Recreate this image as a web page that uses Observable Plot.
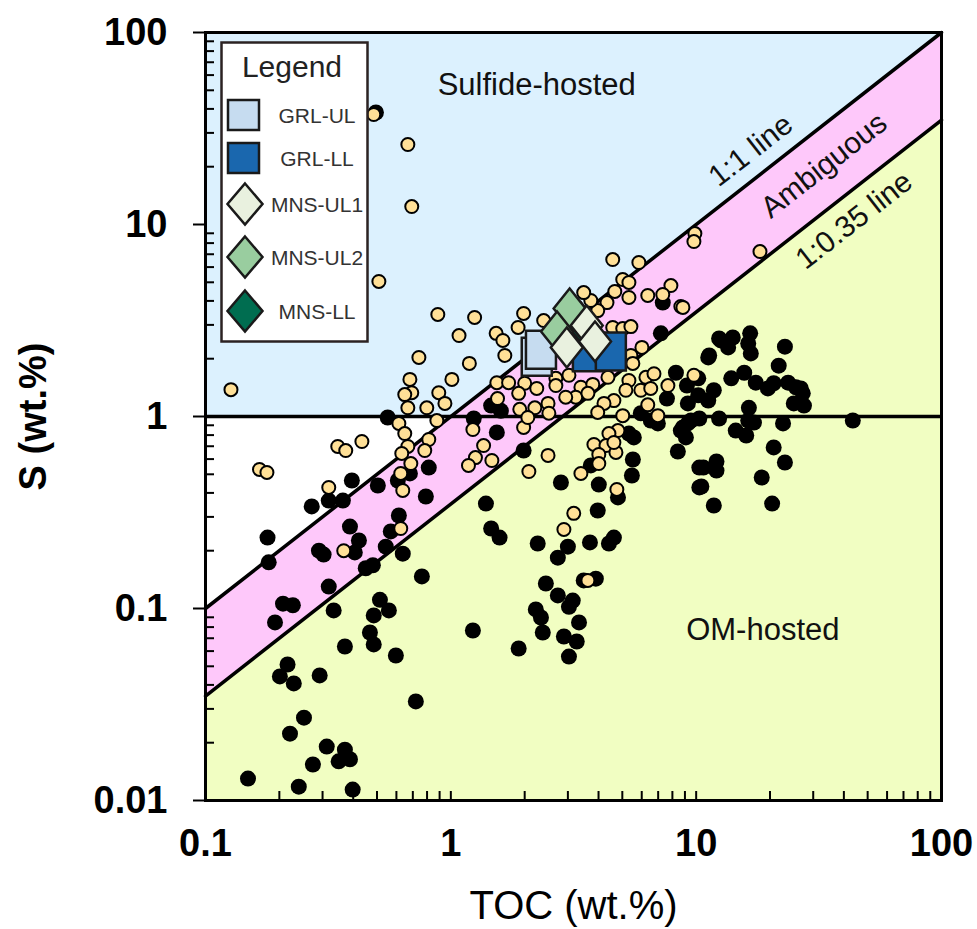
<!DOCTYPE html>
<html><head><meta charset="utf-8">
<script src="https://cdn.jsdelivr.net/npm/d3@7"></script>
<script src="https://cdn.jsdelivr.net/npm/@observablehq/plot@0.6"></script>
<style>
body{margin:0;background:#fff;font-family:Arial,"Liberation Sans",sans-serif;}
#wrap{position:relative;width:977px;height:929px;}
#legend{position:absolute;left:220px;top:41px;}
</style></head><body><div id="wrap"></div>
<script>
// ---- axis ticks ----
const xTicks = [0.1, 1, 10, 100];
const yTicks = [0.01, 0.1, 1, 10, 100];
const minorMultipliers = [2, 3, 4, 5, 6, 7, 8, 9];
const xDecades = [0.1, 1, 10];
const yDecades = [0.01, 0.1, 1, 10];

// ---- reference lines ----
const ratioOneToOne = 1;      // 1:1 line
const ratioAmbiguous = 0.35;  // 1:0.35 line
const sThreshold = 1;         // horizontal S = 1 wt.% line

// ---- data: black circles ----
const blackTOC = [0.495,0.553,0.395,0.504,0.271,0.318,0.363,0.179,0.791,0.614,0.569,0.388,0.422,0.290,0.303,0.543,0.637,0.681,0.813,0.608,0.406,0.181,0.481,0.450,0.318,0.762,0.207,0.227,0.192,0.333,0.514,0.559,0.485,0.468,0.485,0.597,0.370,0.216,0.201,0.229,0.292,0.720,0.252,0.221,0.312,0.370,0.349,0.388,0.274,0.149,0.240,0.398,
1.46,1.60,1.24,1.54,1.98,2.81,4.01,5.52,5.47,4.80,3.97,1.39,1.46,1.58,2.26,2.73,3.00,3.69,4.41,4.62,2.44,2.73,3.48,3.90,8.42,9.08,9.25,10.3,10.3,10.3,6.98,5.95,5.32,3.72,3.14,3.03,2.22,2.33,2.37,3.33,2.89,3.26,3.03,1.23,1.89,7.31,7.18,8.27,9.17,10.2,10.2,11.8,7.60,9.25,11.2,11.2,12.4,6.53,8.66,5.57,
12.6,14.1,16.6,16.7,23.0,21.7,13.9,15.7,17.5,19.6,20.7,23.7,26.7,27.5,25.0,13.5,16.3,16.4,16.3,12.4,9.52,8.83,17.2,22.6,43.5,14.5,16.0,20.7,23.0,18.5,10.5,11.8,20.4,10.7,12.1,12.1,27.2,25.5,11.3];
const blackS = [38.3,0.988,0.464,0.437,0.340,0.365,0.365,0.234,0.383,0.305,0.252,0.267,0.226,0.200,0.191,0.210,0.193,0.505,0.542,0.464,0.196,0.174,0.168,0.162,0.130,0.147,0.106,0.104,0.0846,0.0977,0.111,0.0977,0.092,0.075,0.065,0.0569,0.0634,0.0511,0.0443,0.0407,0.0448,0.0328,0.0270,0.0223,0.0191,0.0184,0.0160,0.0164,0.0154,0.0130,0.0118,0.0114,
1.14,1.07,0.976,0.826,0.665,0.453,0.442,0.597,0.493,0.379,0.324,0.352,0.261,0.234,0.218,0.184,0.210,0.221,0.218,0.234,0.135,0.117,0.140,0.143,0.657,0.778,0.920,0.976,0.542,0.427,0.920,1.04,0.815,0.556,0.110,0.102,0.0989,0.0898,0.075,0.0846,0.0715,0.0673,0.0562,0.0768,0.0619,3.92,2.71,1.69,1.45,1.58,1.29,1.37,1.24,1.17,1.21,2.03,2.55,0.953,0.845,0.778,
2.49,2.58,2.71,2.13,2.31,1.84,1.58,1.69,1.50,1.40,1.49,1.50,1.40,1.14,1.17,2.29,2.40,1.11,0.953,0.976,0.953,0.877,0.930,0.920,0.953,0.845,0.796,0.690,0.576,0.481,0.432,0.344,0.352,0.542,0.583,0.523,1.32,1.42,2.08];

// ---- data: tan circles ----
const tanTOC = [0.127,0.485,0.668,0.693,0.509,0.885,0.741,0.681,0.693,0.649,0.668,0.798,0.893,0.946,1.01,1.08,1.19,1.25,1.53,1.63,1.66,1.88,1.98,2.39,
0.614,0.649,0.668,0.631,0.813,0.783,0.687,0.625,0.637,0.625,0.366,0.346,0.373,0.434,0.166,0.178,0.318,0.877,1.23,1.36,1.26,1.18,1.47,2.49,2.08,
1.54,1.72,2.00,2.24,1.89,1.55,1.91,2.20,2.49,1.98,2.06,2.51,2.68,3.03,2.68,3.39,3.79,3.23,3.62,2.94,
4.57,5.84,5.02,5.32,4.66,5.32,6.35,7.89,7.31,8.66,4.33,3.97,3.72,3.48,9.88,9.79,4.57,5.02,5.42,5.42,6.01,5.52,5.32,6.24,6.73,5.95,5.17,4.62,4.21,3.97,5.02,6.53,7.67,9.79,18.2,8.83,
4.80,4.41,3.83,4.29,4.71,4.01,4.01,3.39,4.75,3.17,2.89,3.62,6.35,6.98,4.62,4.37];
const tanS = [1.38,37.4,26.1,12.4,5.05,3.40,2.03,1.56,1.33,1.30,1.11,1.11,1.33,1.17,1.56,2.64,1.89,3.28,2.71,2.49,2.08,2.91,3.44,3.16,
0.920,0.815,0.698,0.642,0.759,0.665,0.569,0.505,0.412,0.261,0.200,0.698,0.665,0.741,0.530,0.511,0.427,0.953,0.855,0.706,0.611,0.556,0.590,0.627,0.517,
1.50,1.50,1.49,1.40,1.32,1.24,1.09,1.11,1.17,0.877,0.988,1.04,1.58,1.64,1.45,1.42,1.47,1.26,1.32,1.26,
6.57,6.34,5.17,4.99,4.48,4.17,4.27,4.81,4.32,3.74,3.92,3.56,4.02,4.42,8.97,8.15,2.91,2.87,2.94,2.08,2.29,1.89,1.54,1.60,1.67,1.37,1.37,1.21,1.17,1.05,1.01,1.40,1.45,1.64,7.23,3.70,
0.845,0.815,0.715,0.706,0.650,0.634,0.569,0.505,0.417,0.313,0.258,0.140,1.15,1.01,0.732,1.60];

// ---- data: highlighted samples ----
const grlUL_TOC = [2.24, 2.33];  const grlUL_S = [2.05, 2.23];
const grlLL_TOC = [3.62, 4.49];  const grlLL_S = [2.16, 2.18];
const mnsLL_TOC = [3.39];        const mnsLL_S = [3.09];
const mnsUL2_TOC = [3.05, 2.71]; const mnsUL2_S = [3.65, 2.77];
const mnsUL1_TOC = [3.58, 3.87, 2.97]; const mnsUL1_S = [2.98, 2.46, 2.29];

// ---- region / line labels ----
const labelText = ["Sulfide-hosted", "OM-hosted"];
const labelTOC = [2.24, 18.7];
const labelS = [53, 0.0768];
const slopedText = ["1:1 line", "Ambiguous", "1:0.35 line"];
const slopedTOC = [16.7, 33.2, 44.0];
const slopedS = [24.3, 20.3, 10.5];

// ---- build tables ----
const zip = (xs, ys) => xs.map((x, i) => ({toc: x, s: ys[i]}));
const black = zip(blackTOC, blackS);
const tan = zip(tanTOC, tanS);
const xMin = xTicks[0], xMax = xTicks[xTicks.length - 1];
const yMin = yTicks[0], yMax = yTicks[yTicks.length - 1];
const xMinor = xDecades.flatMap(d => minorMultipliers.map(m => d * m));
const yMinor = yDecades.flatMap(d => minorMultipliers.map(m => d * m));
const blueRegion = [
  {x: xMin, y1: sThreshold, y2: yMax},
  {x: sThreshold / ratioOneToOne, y1: sThreshold, y2: yMax},
  {x: xMax, y1: xMax * ratioOneToOne, y2: yMax}];
const pinkRegion = [xMin, xMax].map(x => ({x, y1: x * ratioAmbiguous, y2: x * ratioOneToOne}));
const yellowRegion = [xMin, xMax].map(x => ({x, y1: yMin, y2: x * ratioAmbiguous}));
const line11 = [xMin, xMax].map(x => ({x, y: x * ratioOneToOne}));
const line035 = [xMin, xMax].map(x => ({x, y: x * ratioAmbiguous}));

const rectSym = {draw(ctx) { ctx.rect(-15, -19, 30, 38); }};
const diamondSym = {draw(ctx) { ctx.moveTo(0, -20); ctx.lineTo(16, 0); ctx.lineTo(0, 20); ctx.lineTo(-16, 0); ctx.closePath(); }};
const fmt = d => String(d);
const FONT = "Arial, 'Liberation Sans', sans-serif";

const plot = Plot.plot({
  width: 977, height: 929,
  marginLeft: 205, marginRight: 36, marginTop: 32, marginBottom: 129,
  style: {fontFamily: FONT, background: "transparent", color: "#000"},
  x: {type: "log", domain: [xMin, xMax]},
  y: {type: "log", domain: [yMin, yMax]},
  marks: [
    Plot.areaY(blueRegion, {x: "x", y1: "y1", y2: "y2", fill: "#DCF1FE"}),
    Plot.areaY(pinkRegion, {x: "x", y1: "y1", y2: "y2", fill: "#FEC8FA"}),
    Plot.areaY(yellowRegion, {x: "x", y1: "y1", y2: "y2", fill: "#F1FEC2"}),
    Plot.ruleY([sThreshold], {stroke: "#000", strokeWidth: 3.5}),
    Plot.line(line11, {x: "x", y: "y", stroke: "#000", strokeWidth: 3.5}),
    Plot.line(line035, {x: "x", y: "y", stroke: "#000", strokeWidth: 3.5}),
    Plot.dot(black, {x: "toc", y: "s", r: 8, fill: "#000"}),
    Plot.dot(tan, {x: "toc", y: "s", r: 6.5, fill: "#FFE097", stroke: "#000", strokeWidth: 2}),
    Plot.dot(zip(grlUL_TOC, grlUL_S), {x: "toc", y: "s", symbol: rectSym, r: 10, fill: "#C6DCF0", stroke: "#1a1a1a", strokeWidth: 2.5}),
    Plot.dot(zip(grlLL_TOC, grlLL_S), {x: "toc", y: "s", symbol: rectSym, r: 10, fill: "#1A67AE", stroke: "#1a1a1a", strokeWidth: 2.5}),
    Plot.dot(zip(mnsLL_TOC, mnsLL_S), {x: "toc", y: "s", symbol: diamondSym, r: 10, fill: "#006D50", stroke: "#1a1a1a", strokeWidth: 2.5}),
    Plot.dot(zip(mnsUL2_TOC, mnsUL2_S), {x: "toc", y: "s", symbol: diamondSym, r: 10, fill: "#99CD9F", stroke: "#1a1a1a", strokeWidth: 2.5}),
    Plot.dot(zip(mnsUL1_TOC, mnsUL1_S), {x: "toc", y: "s", symbol: diamondSym, r: 10, fill: "#E9F1DF", stroke: "#1a1a1a", strokeWidth: 2.5}),
    Plot.text(labelText, {x: (d, i) => labelTOC[i], y: (d, i) => labelS[i], text: d => d, fontSize: 31, fill: "#111"}),
    Plot.text(slopedText, {x: (d, i) => slopedTOC[i], y: (d, i) => slopedS[i], text: d => d, fontSize: 30, rotate: -38, fill: "#111"}),
    Plot.axisY({ticks: yTicks, tickSize: 12, tickPadding: 26, tickFormat: fmt, fontSize: 38, fontWeight: "bold", label: null, strokeWidth: 2}),
    Plot.axisY({ticks: yMinor, tickSize: -9, tickFormat: () => "", label: null, strokeWidth: 2}),
    Plot.axisX({ticks: xTicks, tickSize: -9, tickPadding: 38, tickFormat: fmt, fontSize: 38, fontWeight: "bold", label: null, strokeWidth: 2}),
    Plot.axisX({ticks: xMinor, tickSize: -9, tickFormat: () => "", label: null, strokeWidth: 2}),
    Plot.frame({stroke: "#000", strokeWidth: 3}),
    Plot.text(["TOC (wt.%)"], {frameAnchor: "bottom", dy: 106, lineAnchor: "middle", textAnchor: "middle", text: d => d, fontSize: 40}),
    Plot.text(["S (wt.%)"], {frameAnchor: "left", dx: -172, rotate: -90, textAnchor: "middle", lineAnchor: "middle", text: d => d, fontSize: 38, fontWeight: "bold"})
  ]
});
document.getElementById("wrap").appendChild(plot);

// ---- legend ----
const legendItems = [
  {label: "GRL-UL", shape: "square", fill: "#C6DCF0"},
  {label: "GRL-LL", shape: "square", fill: "#1A67AE"},
  {label: "MNS-UL1", shape: "diamond", fill: "#E9F1DF"},
  {label: "MNS-UL2", shape: "diamond", fill: "#99CD9F"},
  {label: "MNS-LL", shape: "diamond", fill: "#006D50"}
];
const legendRowsY = [74, 117, 163, 216, 270];
const leg = d3.create("svg").attr("id", "legend").attr("width", 150).attr("height", 303)
  .style("font-family", FONT);
leg.append("rect").attr("x", 1.5).attr("y", 1.5).attr("width", 146).attr("height", 299)
  .attr("fill", "#fff").attr("stroke", "#2b2222").attr("stroke-width", 2.5);
leg.append("text").attr("x", 72).attr("y", 36).attr("text-anchor", "middle")
  .attr("font-size", 30).attr("fill", "#222").text("Legend");
legendItems.forEach((it, i) => {
  const cy = legendRowsY[i];
  if (it.shape === "square") {
    leg.append("rect").attr("x", 8).attr("y", cy - 15).attr("width", 31).attr("height", 30)
      .attr("fill", it.fill).attr("stroke", "#1a1a1a").attr("stroke-width", 2.5);
  } else {
    leg.append("path").attr("d", `M25,${cy - 20.5}L42.5,${cy}L25,${cy + 20.5}L7.5,${cy}Z`)
      .attr("fill", it.fill).attr("stroke", "#1a1a1a").attr("stroke-width", 2.5);
  }
  leg.append("text").attr("x", 97).attr("y", cy + 8).attr("text-anchor", "middle")
    .attr("font-size", 21).attr("fill", "#333").text(it.label);
});
document.getElementById("wrap").appendChild(leg.node());
</script></body></html>
